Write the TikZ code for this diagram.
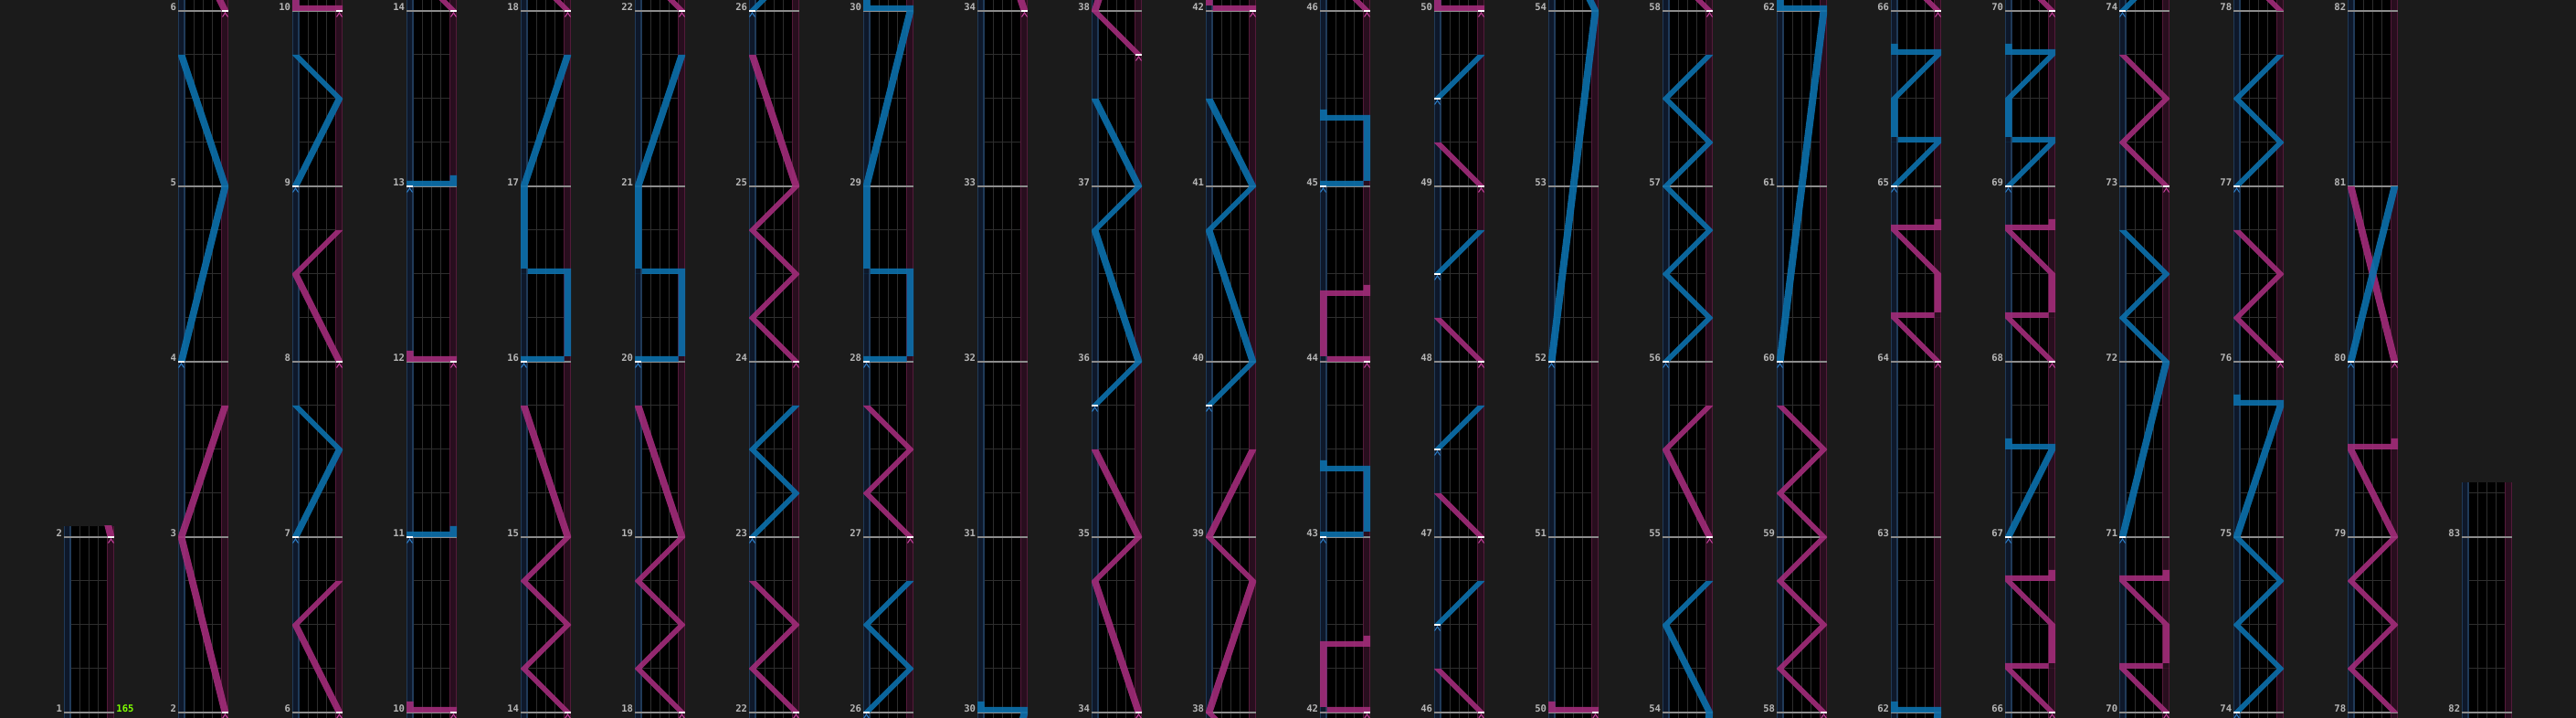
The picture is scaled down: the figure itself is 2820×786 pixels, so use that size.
\documentclass[tikz,border=0pt]{standalone}
\usepackage{fontspec}
\newfontfamily\lblfont{DejaVu Sans Mono}
\definecolor{bgc}{RGB}{27,27,27}
\definecolor{bandB}{RGB}{14,24,42}
\definecolor{bandBe}{RGB}{32,58,88}
\definecolor{bandP}{RGB}{40,14,30}
\definecolor{bandPe}{RGB}{84,26,58}
\definecolor{gridc}{RGB}{46,46,46}
\definecolor{mlinec}{RGB}{140,140,140}
\definecolor{lasB}{RGB}{12,112,172}
\definecolor{lasP}{RGB}{162,44,122}
\definecolor{mkB}{RGB}{44,124,196}
\definecolor{mkP}{RGB}{196,64,156}
\definecolor{lblc}{RGB}{182,182,182}
\definecolor{bpmc}{RGB}{128,255,0}
\tikzset{
 lasb/.style={fill=lasB, fill opacity=0.9},
 lasp/.style={fill=lasP, fill opacity=0.9},
 mlbl/.style={text=lblc, font=\lblfont\bfseries\fontsize{5.3}{6}\selectfont, inner sep=0pt, anchor=base east},
 gridln/.style={draw=gridc, line width=0.5pt},
 measln/.style={draw=mlinec, line width=0.6pt},
}
% laser pieces (x in px, y in measures)
\newcommand\lseg[4]{({48*(#1)-4},{#2}) -- ({48*(#1)+4},{#2}) -- ({48*(#3)+4},{#4}) -- ({48*(#3)-4},{#4}) -- cycle }
\newcommand\lslam[1]{(-4,{#1}) rectangle (52,{#1+1/32}) }
\newcommand\ltail[2]{({48*(#1)-4},{#2}) rectangle ({48*(#1)+4},{#2+1/16}) }
\newcommand\lmark[3]{\draw[white,line width=0.8pt] ({48*(#1)-3.5},{#2}) -- ({48*(#1)+3.5},{#2});
 \draw[#3,line width=0.5pt] ({48*(#1)-3},{#2-6.5/192}) -- ({48*(#1)},{#2-2/192}) -- ({48*(#1)+3},{#2-6.5/192});}
\newcommand\pzz[1]{\lseg{1}{#1}{0}{#1+0.25} \lslam{#1+0.25} \lseg{1}{#1+0.25}{1}{#1+0.5} \lseg{1}{#1+0.5}{0}{#1+0.75} \lslam{#1+0.75} \ltail{1}{#1+0.75} }
\newcommand\bzz[1]{\lseg{0}{#1}{1}{#1+0.25} \lslam{#1+0.25} \lseg{0}{#1+0.25}{0}{#1+0.5} \lseg{0}{#1+0.5}{1}{#1+0.75} \lslam{#1+0.75} \ltail{0}{#1+0.75} }
\newcommand\Gdef[2]{\expandafter\def\csname lgrp#1\endcsname{#2}}
\newcommand\grp[1]{\ifcsname lgrp#1\endcsname\csname lgrp#1\endcsname\fi}

\Gdef{1}{%
 \fill[lasp] \lseg{1}{2}{0}{3} \lseg{0}{3}{1}{3.75};
 \fill[lasb] \lseg{0}{4}{1}{5} \lseg{1}{5}{0}{5.75};
 \lmark{1}{2}{mkP}\lmark{0}{4}{mkB}}
\Gdef{2}{%
 \fill[lasp] \lseg{1}{6}{0}{6.5} \lseg{0}{6.5}{1}{6.75};
 \fill[lasb] \lseg{0}{7}{1}{7.5} \lseg{1}{7.5}{0}{7.75};
 \fill[lasp] \lseg{1}{8}{0}{8.5} \lseg{0}{8.5}{1}{8.75};
 \fill[lasb] \lseg{0}{9}{1}{9.5} \lseg{1}{9.5}{0}{9.75};
 \lmark{1}{6}{mkP}\lmark{0}{7}{mkB}\lmark{1}{8}{mkP}\lmark{0}{9}{mkB}}
\Gdef{3}{%
 \fill[lasp] \lslam{10} \ltail{0}{10};
 \fill[lasb] \lslam{11} \ltail{1}{11};
 \fill[lasp] \lslam{12} \ltail{0}{12};
 \fill[lasb] \lslam{13} \ltail{1}{13};
 \lmark{1}{10}{mkP}\lmark{0}{11}{mkB}\lmark{1}{12}{mkP}\lmark{0}{13}{mkB}}
\Gdef{4}{%
 \fill[lasp] \lseg{1}{14}{0}{14.25} \lseg{0}{14.25}{1}{14.5} \lseg{1}{14.5}{0}{14.75} \lseg{0}{14.75}{1}{15} \lseg{1}{15}{0}{15.75};
 \fill[lasb] \lslam{16} \lseg{1}{16}{1}{16.5} \lslam{16.5} \lseg{0}{16.5}{0}{17} \lseg{0}{17}{1}{17.75};
 \lmark{1}{14}{mkP}\lmark{0}{16}{mkB}}
\Gdef{5}{%
 \fill[lasp] \lseg{1}{18}{0}{18.25} \lseg{0}{18.25}{1}{18.5} \lseg{1}{18.5}{0}{18.75} \lseg{0}{18.75}{1}{19} \lseg{1}{19}{0}{19.75};
 \fill[lasb] \lslam{20} \lseg{1}{20}{1}{20.5} \lslam{20.5} \lseg{0}{20.5}{0}{21} \lseg{0}{21}{1}{21.75};
 \lmark{1}{18}{mkP}\lmark{0}{20}{mkB}}
\Gdef{6}{%
 \fill[lasp] \lseg{1}{22}{0}{22.25} \lseg{0}{22.25}{1}{22.5} \lseg{1}{22.5}{0}{22.75};
 \fill[lasb] \lseg{0}{23}{1}{23.25} \lseg{1}{23.25}{0}{23.5} \lseg{0}{23.5}{1}{23.75};
 \fill[lasp] \lseg{1}{24}{0}{24.25} \lseg{0}{24.25}{1}{24.5} \lseg{1}{24.5}{0}{24.75} \lseg{0}{24.75}{1}{25} \lseg{1}{25}{0}{25.75};
 \lmark{1}{22}{mkP}\lmark{0}{23}{mkB}\lmark{1}{24}{mkP}}
\Gdef{7}{%
 \fill[lasb] \lseg{0}{26}{1}{26.25} \lseg{1}{26.25}{0}{26.5} \lseg{0}{26.5}{1}{26.75};
 \fill[lasp] \lseg{1}{27}{0}{27.25} \lseg{0}{27.25}{1}{27.5} \lseg{1}{27.5}{0}{27.75};
 \fill[lasb] \lslam{28} \lseg{1}{28}{1}{28.5} \lslam{28.5} \lseg{0}{28.5}{0}{29} \lseg{0}{29}{1}{30} \lslam{30} \ltail{0}{30};
 \lmark{0}{26}{mkB}\lmark{1}{27}{mkP}\lmark{0}{28}{mkB}}
\Gdef{9}{%
 \fill[lasp] \lseg{1}{34}{0}{34.75} \lseg{0}{34.75}{1}{35} \lseg{1}{35}{0}{35.5};
 \fill[lasb] \lseg{0}{35.75}{1}{36} \lseg{1}{36}{0}{36.75} \lseg{0}{36.75}{1}{37} \lseg{1}{37}{0}{37.5};
 \fill[lasp] \lseg{1}{37.75}{0}{38} \lseg{0}{38}{1}{38.75} \lseg{1}{38.75}{0}{39} \lseg{0}{39}{1}{39.5};
 \lmark{1}{34}{mkP}\lmark{0}{35.75}{mkB}\lmark{1}{37.75}{mkP}}
\Gdef{10}{%
 \fill[lasb] \lseg{0}{39.75}{1}{40} \lseg{1}{40}{0}{40.75} \lseg{0}{40.75}{1}{41} \lseg{1}{41}{0}{41.5};
 \lmark{0}{39.75}{mkB}}
\Gdef{11}{%
 \fill[lasp] \lslam{42} \lseg{0}{42}{0}{42.375} \lslam{42.375} \ltail{1}{42.375};
 \fill[lasb] \lslam{43} \lseg{1}{43}{1}{43.375} \lslam{43.375} \ltail{0}{43.375};
 \fill[lasp] \lslam{44} \lseg{0}{44}{0}{44.375} \lslam{44.375} \ltail{1}{44.375};
 \fill[lasb] \lslam{45} \lseg{1}{45}{1}{45.375} \lslam{45.375} \ltail{0}{45.375};
 \lmark{1}{42}{mkP}\lmark{0}{43}{mkB}\lmark{1}{44}{mkP}\lmark{0}{45}{mkB}}
\Gdef{12}{%
 \fill[lasp] \lseg{1}{46}{0}{46.25} \lseg{1}{47}{0}{47.25} \lseg{1}{48}{0}{48.25} \lseg{1}{49}{0}{49.25};
 \fill[lasb] \lseg{0}{46.5}{1}{46.75} \lseg{0}{47.5}{1}{47.75} \lseg{0}{48.5}{1}{48.75} \lseg{0}{49.5}{1}{49.75};
 \lmark{1}{46}{mkP}\lmark{0}{46.5}{mkB}\lmark{1}{47}{mkP}\lmark{0}{47.5}{mkB}
 \lmark{1}{48}{mkP}\lmark{0}{48.5}{mkB}\lmark{1}{49}{mkP}\lmark{0}{49.5}{mkB}}
\Gdef{13}{%
 \fill[lasp] \lslam{50} \ltail{0}{50};
 \fill[lasb] \lseg{0}{52}{1}{54} \lseg{1}{54}{0}{54.5} \lseg{0}{54.5}{1}{54.75};
 \lmark{1}{50}{mkP}\lmark{0}{52}{mkB}}
\Gdef{14}{%
 \fill[lasp] \lseg{1}{55}{0}{55.5} \lseg{0}{55.5}{1}{55.75};
 \fill[lasb] \lseg{0}{56}{1}{56.25} \lseg{1}{56.25}{0}{56.5} \lseg{0}{56.5}{1}{56.75} \lseg{1}{56.75}{0}{57} \lseg{0}{57}{1}{57.25} \lseg{1}{57.25}{0}{57.5} \lseg{0}{57.5}{1}{57.75};
 \lmark{1}{55}{mkP}\lmark{0}{56}{mkB}}
\Gdef{15}{%
 \fill[lasp] \lseg{1}{58}{0}{58.25} \lseg{0}{58.25}{1}{58.5} \lseg{1}{58.5}{0}{58.75} \lseg{0}{58.75}{1}{59} \lseg{1}{59}{0}{59.25} \lseg{0}{59.25}{1}{59.5} \lseg{1}{59.5}{0}{59.75};
 \fill[lasb] \lseg{0}{60}{1}{62} \lslam{62} \ltail{0}{62};
 \lmark{1}{58}{mkP}\lmark{0}{60}{mkB}}
\Gdef{16}{%
 \fill[lasp] \pzz{64};
 \fill[lasb] \bzz{65};
 \lmark{1}{64}{mkP}\lmark{0}{65}{mkB}}
\Gdef{17}{%
 \fill[lasp] \pzz{66};
 \fill[lasb] \lseg{0}{67}{1}{67.5} \lslam{67.5} \ltail{0}{67.5};
 \fill[lasp] \pzz{68};
 \fill[lasb] \bzz{69};
 \lmark{1}{66}{mkP}\lmark{0}{67}{mkB}\lmark{1}{68}{mkP}\lmark{0}{69}{mkB}}
\Gdef{18}{%
 \fill[lasp] \pzz{70};
 \fill[lasb] \lseg{0}{71}{1}{72} \lseg{1}{72}{0}{72.25} \lseg{0}{72.25}{1}{72.5} \lseg{1}{72.5}{0}{72.75};
 \fill[lasp] \lseg{1}{73}{0}{73.25} \lseg{0}{73.25}{1}{73.5} \lseg{1}{73.5}{0}{73.75};
 \lmark{1}{70}{mkP}\lmark{0}{71}{mkB}\lmark{1}{73}{mkP}}
\Gdef{19}{%
 \fill[lasb] \lseg{0}{74}{1}{74.25} \lseg{1}{74.25}{0}{74.5} \lseg{0}{74.5}{1}{74.75} \lseg{1}{74.75}{0}{75} \lseg{0}{75}{1}{75.75} \lslam{75.75} \ltail{0}{75.75};
 \fill[lasp] \lseg{1}{76}{0}{76.25} \lseg{0}{76.25}{1}{76.5} \lseg{1}{76.5}{0}{76.75};
 \fill[lasb] \lseg{0}{77}{1}{77.25} \lseg{1}{77.25}{0}{77.5} \lseg{0}{77.5}{1}{77.75};
 \lmark{0}{74}{mkB}\lmark{1}{76}{mkP}\lmark{0}{77}{mkB}}
\Gdef{20}{%
 \fill[lasp] \lseg{1}{78}{0}{78.25} \lseg{0}{78.25}{1}{78.5} \lseg{1}{78.5}{0}{78.75} \lseg{0}{78.75}{1}{79} \lseg{1}{79}{0}{79.5} \lslam{79.5} \ltail{1}{79.5};
 \fill[lasp] \lseg{1}{80}{0}{81};
 \fill[lasb] \lseg{0}{80}{1}{81};
 \lmark{0}{80}{mkB}\lmark{1}{80}{mkP}}

\begin{document}
\begin{tikzpicture}[x=0.5pt,y=0.5pt]
\useasboundingbox (0,0) rectangle (2820,786);
\fill[bgc] (0,0) rectangle (2820,786);
\foreach \i in {0,...,21}{
 \pgfmathtruncatemacro\cL{70+125*\i}
 \pgfmathtruncatemacro\cb{\i==0 ? 1 : 4*\i-2}
 \pgfmathtruncatemacro\nm{(\i==0 || \i==21) ? 1 : 4}
 \pgfmathtruncatemacro\ctop{\i==0 ? 210 : (\i==21 ? 258 : 786)}
 \pgfmathtruncatemacro\gp{\i-1}
 \pgfmathtruncatemacro\gn{\i+1}
 \begin{scope}
  \clip (\cL,0) rectangle ++(55,\ctop);
  \fill[black] (\cL,0) rectangle ++(55,\ctop);
  \fill[bandB] (\cL,0) rectangle ++(7.5,\ctop);
  \fill[bandP] (\cL+47,0) rectangle ++(8,\ctop);
  \foreach \xx in {0.5,7} {\draw[bandBe,line width=0.6pt] (\cL+\xx,0) -- ++(0,\ctop);}
  \foreach \xx in {47.3,54.6} {\draw[bandPe,line width=0.6pt] (\cL+\xx,0) -- ++(0,\ctop);}
  \foreach \xx in {17.3,27.3,37.3} {\draw[gridln] (\cL+\xx,0) -- ++(0,\ctop);}
  \foreach \j in {0,...,16} {\draw[gridln] (\cL+7.5,{6+48*\j}) -- ++(39.5,0);}
  \foreach \k in {0,...,\nm} {\draw[measln] (\cL,{6+192*\k}) -- ++(55,0);}
  \begin{scope}[x=0.5pt,y=96pt,shift={(\cL+3.5,{1/32-\cb})}]
   \grp{\gp}\grp{\i}\grp{\gn}
  \end{scope}
 \end{scope}
 \foreach \k in {0,...,\nm} {
  \pgfmathtruncatemacro\mnum{\cb+\k}
  \node[mlbl] (m\i-\k) at (\cL-1.5,{6+192*\k}) {\mnum};
 }
}
\node[mlbl, text=bpmc, anchor=base west] (bpm) at (127,6) {165};
\end{tikzpicture}
\end{document}
